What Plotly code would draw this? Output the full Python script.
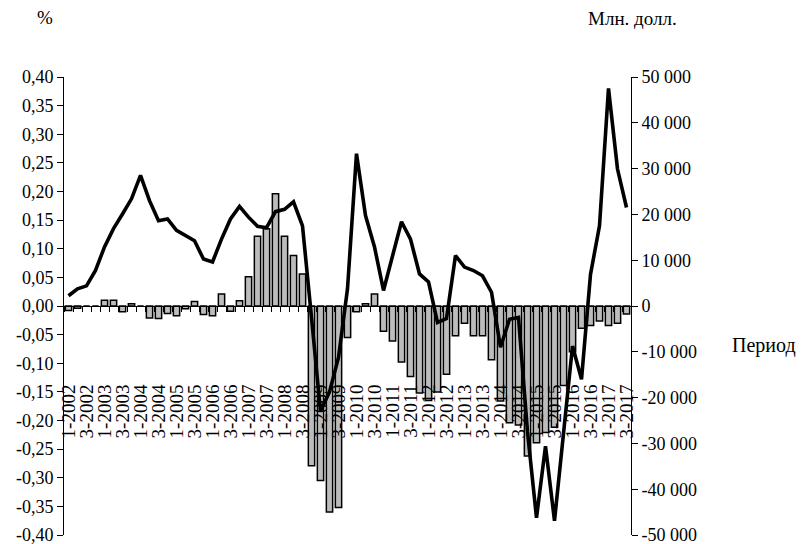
import plotly.graph_objects as go

categories = [
    "1-2002", "2-2002", "3-2002", "4-2002",
    "1-2003", "2-2003", "3-2003", "4-2003",
    "1-2004", "2-2004", "3-2004", "4-2004",
    "1-2005", "2-2005", "3-2005", "4-2005",
    "1-2006", "2-2006", "3-2006", "4-2006",
    "1-2007", "2-2007", "3-2007", "4-2007",
    "1-2008", "2-2008", "3-2008", "4-2008",
    "1-2009", "2-2009", "3-2009", "4-2009",
    "1-2010", "2-2010", "3-2010", "4-2010",
    "1-2011", "2-2011", "3-2011", "4-2011",
    "1-2012", "2-2012", "3-2012", "4-2012",
    "1-2013", "2-2013", "3-2013", "4-2013",
    "1-2014", "2-2014", "3-2014", "4-2014",
    "1-2015", "2-2015", "3-2015", "4-2015",
    "1-2016", "2-2016", "3-2016", "4-2016",
    "1-2017", "2-2017", "3-2017",
]

# bars, left axis (%)
bar_pct = [
    -0.008, -0.004, 0.000, 0.000,
    0.010, 0.010, -0.010, 0.004,
    0.000, -0.021, -0.022, -0.013,
    -0.017, -0.005, 0.008, -0.015,
    -0.017, 0.021, -0.009, 0.009,
    0.051, 0.122, 0.135, 0.196,
    0.122, 0.088, 0.056, -0.279,
    -0.305, -0.360, -0.352, -0.055,
    -0.010, 0.004, 0.021, -0.044,
    -0.061, -0.098, -0.123, -0.152,
    -0.165, -0.150, -0.119, -0.052,
    -0.030, -0.052, -0.052, -0.094,
    -0.166, -0.204, -0.208, -0.262,
    -0.239, -0.221, -0.212, -0.139,
    -0.080, -0.039, -0.034, -0.026,
    -0.034, -0.030, -0.014,
]

# line, right axis (Млн. долл.)
line_mln = [
    2250, 3750, 4400, 7750,
    12900, 16900, 20100, 23400,
    28500, 23000, 18600, 19000,
    16500, 15400, 14250, 10250,
    9600, 14600, 19000, 21750,
    19400, 17400, 17100, 20600,
    21100, 22750, 17500, -2500,
    -23000, -18750, -11250, 3750,
    33250, 19750, 12900, 3400,
    10600, 18400, 14600, 7000,
    5250, -3600, -2750, 11000,
    8500, 7750, 6600, 3000,
    -9000, -2900, -2500, -27500,
    -46250, -30600, -46900, -27500,
    -8750, -16000, 6900, 17500,
    47500, 29900, 21500,
]

left_tickvals = [0.40, 0.35, 0.30, 0.25, 0.20, 0.15, 0.10, 0.05, 0.00,
                 -0.05, -0.10, -0.15, -0.20, -0.25, -0.30, -0.35, -0.40]
left_ticktext = ["0,40", "0,35", "0,30", "0,25", "0,20", "0,15", "0,10", "0,05", "0,00",
                 "-0,05", "-0,10", "-0,15", "-0,20", "-0,25", "-0,30", "-0,35", "-0,40"]
right_tickvals = [50000, 40000, 30000, 20000, 10000, 0,
                  -10000, -20000, -30000, -40000, -50000]
right_ticktext = ["50 000", "40 000", "30 000", "20 000", "10 000", "0",
                  "-10 000", "-20 000", "-30 000", "-40 000", "-50 000"]
x_ticktext = [c if i % 2 == 0 else "" for i, c in enumerate(categories)]

FONT = "Times New Roman, Liberation Serif, serif"

fig = go.Figure()
fig.add_trace(go.Bar(
    x=categories, y=bar_pct, yaxis="y",
    marker=dict(color="#bcbcbc", line=dict(color="black", width=1.5)),
    showlegend=False,
))
fig.add_trace(go.Scatter(
    x=categories, y=line_mln, yaxis="y2", mode="lines",
    line=dict(color="black", width=3.6),
    showlegend=False,
))

# page body has an 8px default margin, so the figure is offset by 8px
fig.update_layout(
    width=796, height=544,
    margin=dict(l=56, r=173, t=69, b=17),
    paper_bgcolor="white", plot_bgcolor="white",
    font=dict(family=FONT, size=18, color="black"),
    bargap=0.3,
    hovermode=False,
    xaxis=dict(
        type="category",
        range=[-0.5, len(categories) - 0.5],
        anchor="free", position=0.5,
        showline=True, linecolor="black", linewidth=1,
        ticks="outside", ticklen=5, tickcolor="black", tickwidth=1,
        tickson="boundaries",
        tickmode="array", tickvals=categories, ticktext=x_ticktext,
        tickangle=-90, tickfont=dict(family=FONT, size=19),
        ticklabelstandoff=70,
        showgrid=False, zeroline=False, automargin=False,
    ),
    yaxis=dict(
        range=[-0.4, 0.4],
        showline=True, linecolor="black", linewidth=1,
        ticks="outside", ticklen=6, tickcolor="black",
        tickmode="array", tickvals=left_tickvals, ticktext=left_ticktext,
        showgrid=False, zeroline=False, automargin=False,
        ticklabeloverflow="allow",
        tickfont=dict(family=FONT, size=18),
    ),
    yaxis2=dict(
        range=[-50000, 50000], overlaying="y", side="right",
        showline=True, linecolor="black", linewidth=1,
        ticks="outside", ticklen=6, tickcolor="black",
        tickmode="array", tickvals=right_tickvals, ticktext=right_ticktext,
        showgrid=False, zeroline=False, automargin=False,
        ticklabeloverflow="allow",
        tickfont=dict(family=FONT, size=18),
    ),
    annotations=[
        dict(text="%", xref="paper", yref="paper", x=-0.0335, y=1.129,
             showarrow=False, xanchor="center", yanchor="middle",
             font=dict(family=FONT, size=19)),
        dict(text="Млн. долл.", xref="paper", yref="paper", x=1.0035, y=1.127,
             showarrow=False, xanchor="center", yanchor="middle",
             font=dict(family=FONT, size=19)),
        dict(text="Период", xref="paper", yref="paper", x=1.2346, y=0.4148,
             showarrow=False, xanchor="center", yanchor="middle",
             font=dict(family=FONT, size=20)),
    ],
)

fig.write_html("out.html")
